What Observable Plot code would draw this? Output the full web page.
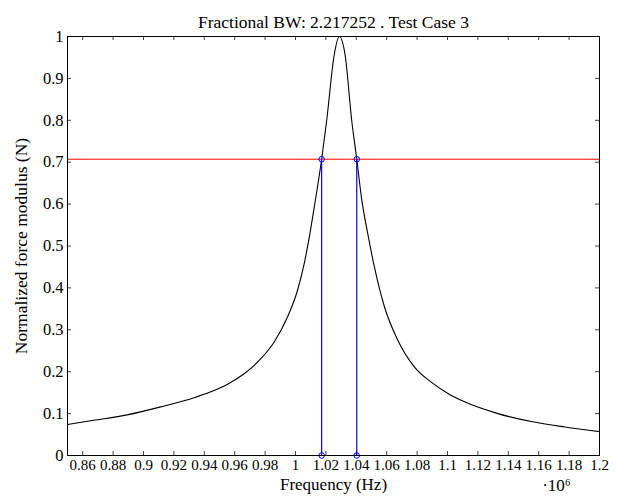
<!DOCTYPE html>
<html>
<head>
<meta charset="utf-8">
<script src="https://cdn.jsdelivr.net/npm/d3@7"></script>
<script src="https://cdn.jsdelivr.net/npm/@observablehq/plot@0.6"></script>
<style>
  html, body { margin: 0; padding: 0; background: #fff; }
</style>
</head>
<body>
<div id="chart"></div>
<script>
// Frequency in units of 10^6 Hz, normalized force modulus
const freq = [0.85, 0.8673, 0.8893, 0.9113, 0.9333, 0.9443, 0.9553, 0.9662, 0.9772, 0.9860,
  0.9948, 1.0014, 1.0058, 1.0091, 1.0124, 1.0172, 1.0205, 1.0255, 1.0288, 1.0326,
  1.0370, 1.0403, 1.0436, 1.0475, 1.0519, 1.0585, 1.0673, 1.0783, 1.0893, 1.1003,
  1.1112, 1.1332, 1.1552, 1.1772, 1.2];
const force = [0.074, 0.084, 0.097, 0.116, 0.138, 0.152, 0.170, 0.195, 0.231, 0.271,
  0.331, 0.395, 0.459, 0.522, 0.594, 0.707, 0.799, 0.957, 1.0, 0.957,
  0.799, 0.707, 0.610, 0.530, 0.450, 0.355, 0.275, 0.211, 0.175, 0.148,
  0.128, 0.100, 0.081, 0.068, 0.057];
const halfPower = 0.7071;
const bandEdges = [1.0172, 1.0403];
const xTicks = [0.86, 0.88, 0.9, 0.92, 0.94, 0.96, 0.98, 1, 1.02, 1.04, 1.06, 1.08, 1.1, 1.12, 1.14, 1.16, 1.18, 1.2];
const yTicks = [0, 0.1, 0.2, 0.3, 0.4, 0.5, 0.6, 0.7, 0.8, 0.9, 1];
const title = "Fractional BW: 2.217252 . Test Case 3";
const xLabel = "Frequency (Hz)";
const yLabel = "Normalized force modulus (N)";
const xMultiplier = "·10⁶";

const curve = freq.map((f, i) => ({f, v: force[i]}));
const edgeSegs = bandEdges.map(f => ({f, v1: 0, v2: halfPower}));
const edgePts = bandEdges.flatMap(f => [{f, v: 0}, {f, v: halfPower}]);

const W = 620, H = 497, mL = 67, mR = 21, mT = 36, mB = 42;
const innerW = W - mL - mR, innerH = H - mT - mB, tk = 4;
const fmt = d => String(+d.toFixed(2));
const FONT = "'Liberation Serif', 'DejaVu Serif', serif";

const chart = Plot.plot({
  width: W, height: H,
  marginLeft: mL, marginRight: mR, marginTop: mT, marginBottom: mB,
  style: {fontFamily: FONT, fontSize: "17px", color: "#000", background: "#fff"},
  x: {domain: [0.85, 1.2]},
  y: {domain: [0, 1]},
  marks: [
    Plot.axisX(xTicks, {tickSize: 0, tickPadding: 4, tickFormat: fmt, label: null, fontSize: 15}),
    Plot.axisY(yTicks, {tickSize: 0, tickPadding: 4, tickFormat: fmt, label: null, fontSize: 16.5}),
    // inward ticks on all four sides
    Plot.tickX(xTicks, {x: d => d, insetTop: innerH - tk, stroke: "#444"}),
    Plot.tickX(xTicks, {x: d => d, insetBottom: innerH - tk, stroke: "#444"}),
    Plot.tickY(yTicks, {y: d => d, insetRight: innerW - tk, stroke: "#444"}),
    Plot.tickY(yTicks, {y: d => d, insetLeft: innerW - tk, stroke: "#444"}),
    Plot.line(curve, {x: "f", y: "v", stroke: "black", strokeWidth: 1.1, curve: "monotone-x"}),
    Plot.ruleY([halfPower], {stroke: "red", strokeWidth: 1}),
    Plot.ruleX(edgeSegs, {x: "f", y1: "v1", y2: "v2", stroke: "blue", strokeWidth: 1.2}),
    Plot.dot(edgePts, {x: "f", y: "v", r: 2.8, stroke: "blue", fill: "none", strokeWidth: 1}),
    Plot.frame({stroke: "black", strokeWidth: 1}),
    Plot.text([title], {text: d => d, frameAnchor: "top", dy: -21, fontSize: 17.5}),
    Plot.text([xLabel], {text: d => d, frameAnchor: "bottom", dy: 34, fontSize: 17}),
    Plot.text([xMultiplier], {text: d => d, frameAnchor: "bottom-right", dx: -43, dy: 35, textAnchor: "middle", fontSize: 17}),
    Plot.text([yLabel], {text: d => d, frameAnchor: "left", dx: -46, rotate: -90, textAnchor: "middle", fontSize: 17.5})
  ]
});
chart.querySelectorAll("text, g").forEach(el => {
  el.setAttribute("font-family", FONT);
  el.style.setProperty("font-family", FONT, "important");
});
document.getElementById("chart").appendChild(chart);
</script>
</body>
</html>
